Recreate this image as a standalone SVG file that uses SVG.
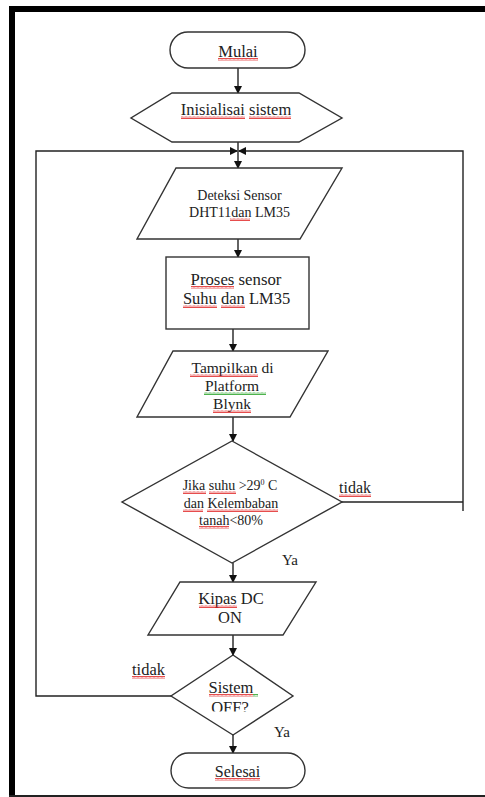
<svg xmlns="http://www.w3.org/2000/svg" width="485" height="797" viewBox="0 0 485 797">
<style>
.s{fill:#fff;stroke:#333;stroke-width:1.4}
.c{fill:none;stroke:#222;stroke-width:1.4}
.t{font-family:"Liberation Serif","Times New Roman",serif;fill:#222;text-anchor:middle}
.l{font-family:"Liberation Serif","Times New Roman",serif;fill:#222}
.w{fill:url(#wave)}
.g{fill:url(#gwave)}
</style>
<defs>
<marker id="ah" markerWidth="8" markerHeight="8" refX="7" refY="4" orient="auto" markerUnits="userSpaceOnUse">
<path d="M0,0 L8,4 L0,8 z" fill="#111"/>
</marker>
<pattern id="wave" width="4" height="3" patternUnits="userSpaceOnUse">
<path d="M0,2.5 L1,0.5 L2,2.5 L3,0.5 L4,2.5" fill="none" stroke="#e02020" stroke-width="0.8"/>
</pattern>
<pattern id="gwave" width="4" height="3" patternUnits="userSpaceOnUse">
<path d="M0,2.5 L1,0.5 L2,2.5 L3,0.5 L4,2.5" fill="none" stroke="#20a020" stroke-width="0.8"/>
</pattern>
<clipPath id="offclip"><rect x="150" y="690" width="160" height="21.5"/></clipPath>
</defs>

<g id="frame">
<rect x="9" y="6" width="476" height="6" fill="#000"/>
<rect x="9" y="6" width="6" height="791" fill="#000"/>
<line x1="9" y1="796" x2="485" y2="796" stroke="#222" stroke-width="2"/>
</g>

<g id="connectors">
<line class="c" x1="238" y1="68" x2="238" y2="93" marker-end="url(#ah)"/>
<line class="c" x1="238" y1="142" x2="238" y2="168" marker-end="url(#ah)"/>
<polyline class="c" points="171,696 36,696 36,151 237,151" marker-end="url(#ah)"/>
<polyline class="c" points="342,502 463,502"/>
<polyline class="c" points="463,511 463,151 239,151" marker-end="url(#ah)"/>
<line class="c" x1="238" y1="239" x2="238" y2="257" marker-end="url(#ah)"/>
<line class="c" x1="233" y1="329" x2="233" y2="351" marker-end="url(#ah)"/>
<line class="c" x1="233" y1="417" x2="233" y2="441" marker-end="url(#ah)"/>
<line class="c" x1="233" y1="563" x2="233" y2="582" marker-end="url(#ah)"/>
<line class="c" x1="233" y1="635" x2="233" y2="655" marker-end="url(#ah)"/>
<line class="c" x1="233" y1="735" x2="233" y2="753" marker-end="url(#ah)"/>
<text class="l" x="339" y="493" font-size="16">tidak</text>
<rect class="w" x="339" y="494" width="32" height="3"/>
<text class="l" x="282" y="565" font-size="15">Ya</text>
<text class="l" x="132" y="675" font-size="16.5">tidak</text>
<rect class="w" x="132" y="676" width="33" height="3"/>
<text class="l" x="274" y="737" font-size="15">Ya</text>
</g>

<g id="mulai">
<rect class="s" x="170" y="32" width="135" height="36" rx="18"/>
<text class="t" x="238" y="57" font-size="16.5">Mulai</text>
<rect class="w" x="218" y="58" width="40" height="3"/>
</g>

<g id="inisialisasi">
<polygon class="s" points="172,93 299,93 342,118 299,142 172,142 131,118"/>
<text class="t" x="236" y="115" font-size="16.5">Inisialisai sistem</text>
<rect class="w" x="181" y="116" width="64" height="3"/>
<rect class="w" x="249" y="116" width="42" height="3"/>
</g>

<g id="deteksi">
<polygon class="s" points="176,168 342,168 300,239 137,239"/>
<text class="t" x="239.5" y="200" font-size="14">Deteksi Sensor</text>
<text class="t" x="239.5" y="217" font-size="14">DHT11dan LM35</text>
<rect class="w" x="230" y="218" width="20" height="3"/>
</g>

<g id="proses">
<rect class="s" x="166" y="257" width="143" height="72"/>
<text class="t" x="236" y="285" font-size="16.8">Proses sensor</text>
<text class="t" x="236.5" y="304" font-size="16.5">Suhu dan LM35</text>
<rect class="w" x="191" y="286" width="43" height="3"/>
<rect class="w" x="183" y="305" width="34" height="3"/>
<rect class="w" x="221" y="305" width="24" height="3"/>
</g>

<g id="tampilkan">
<polygon class="s" points="173,351 328,351 290,417 137,417"/>
<text class="t" x="232.5" y="372.5" font-size="15.5">Tampilkan di</text>
<text class="t" x="232" y="390.5" font-size="15.5">Platform</text>
<text class="t" x="232" y="408.5" font-size="15.5">Blynk</text>
<rect class="w" x="190" y="374" width="68" height="3"/>
<rect class="g" x="204" y="392" width="62" height="3"/>
<rect class="w" x="213" y="410" width="38" height="3"/>
</g>

<g id="kondisi">
<polygon class="s" points="232,441 342,502 232,563 122,502"/>
<text class="t" x="230" y="490" font-size="14">Jika suhu &gt;29<tspan font-size="8" dy="-5">0</tspan><tspan dy="5"> C</tspan></text>
<text class="t" x="231" y="508" font-size="14">dan Kelembaban</text>
<text class="t" x="231" y="525" font-size="14">tanah&lt;80%</text>
<rect class="w" x="183" y="491" width="23" height="3"/>
<rect class="w" x="209" y="491" width="27" height="3"/>
<rect class="w" x="183" y="509" width="20" height="3"/>
<rect class="w" x="207" y="509" width="71" height="3"/>
<rect class="w" x="199" y="526" width="30" height="3"/>
</g>

<g id="kipas">
<polygon class="s" points="180,582 316,582 283,635 148,635"/>
<text class="t" x="231" y="604" font-size="16.5">Kipas DC</text>
<text class="t" x="230" y="623" font-size="16.5">ON</text>
<rect class="w" x="199" y="605" width="38" height="3"/>
</g>

<g id="sistem-off">
<polygon class="s" points="233,655 293,696 233,735 171,696"/>
<text class="t" x="231" y="693" font-size="16.5">Sistem</text>
<rect class="w" x="209" y="694" width="44" height="3"/>
<rect class="g" x="253" y="694" width="5" height="3"/>
<text class="t" x="230" y="713" font-size="16.5" clip-path="url(#offclip)">OFF?</text>
</g>

<g id="selesai">
<rect class="s" x="171" y="753" width="134" height="35" rx="17.5"/>
<text class="t" x="237.5" y="777" font-size="16">Selesai</text>
<rect class="w" x="215" y="778" width="45" height="3"/>
</g>
</svg>
